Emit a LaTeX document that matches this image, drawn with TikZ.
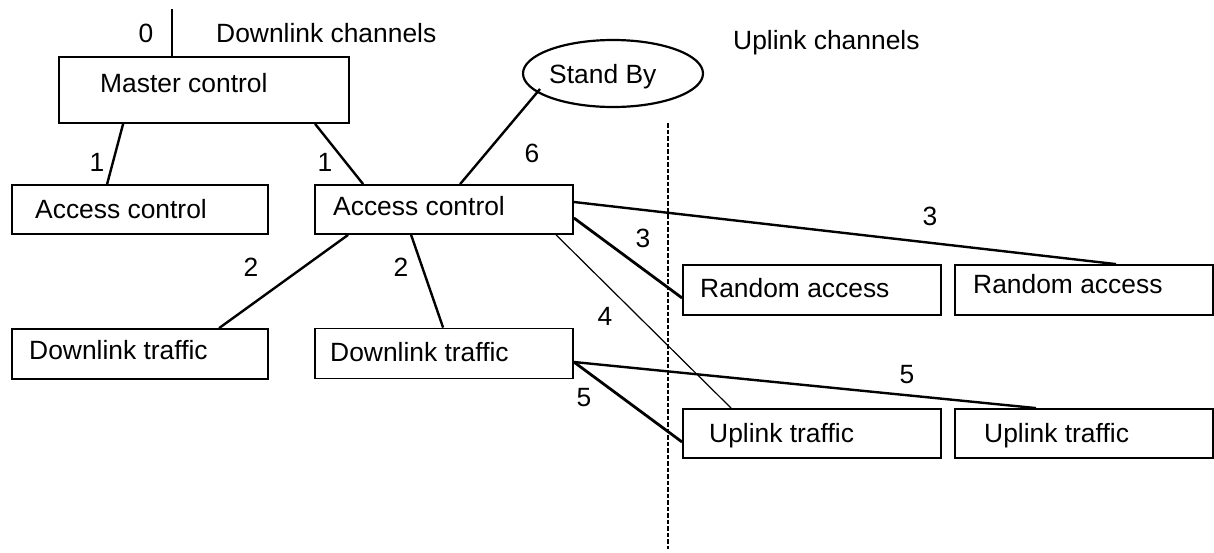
\documentclass[tikz,border=0pt]{standalone}
\usepackage{fontspec}
\setmainfont{Liberation Sans}
\usetikzlibrary{shapes.geometric}
\begin{document}
\begin{tikzpicture}[x=1pt,y=-1pt,
  every node/.style={font=\fontsize{26.4}{30}\selectfont},
  box/.style={draw, line width=1.8pt, rectangle, inner sep=0pt},
  txt/.style={anchor=base west, inner sep=0pt},
  num/.style={anchor=center, inner sep=0pt},
  conn/.style={line width=2.4pt},
  thinconn/.style={line width=1.2pt}]
\useasboundingbox (0,0) rectangle (1214,552);

% boxes
\node[box, minimum width=290pt, minimum height=66pt] (mc) at (204,90) {};
\node[box, minimum width=256pt, minimum height=49pt] (acL) at (140,209.5) {};
\node[box, minimum width=258pt, minimum height=49pt] (acR) at (444,209.5) {};
\node[box, minimum width=256pt, minimum height=50pt] (dtL) at (140,354) {};
\node[box, minimum width=258pt, minimum height=50pt] (dtR) at (444,353.5) {};
\node[box, minimum width=258pt, minimum height=50pt] (ra1) at (812,290) {};
\node[box, minimum width=258pt, minimum height=50pt] (ra2) at (1084,290) {};
\node[box, minimum width=258pt, minimum height=49pt] (ut1) at (812,433.5) {};
\node[box, minimum width=258pt, minimum height=49pt] (ut2) at (1084,433.5) {};
\node[draw, line width=2.2pt, ellipse, inner sep=0pt, minimum width=180pt, minimum height=67pt] (sb) at (613,73.5) {};

% texts
\node[txt] (tmc) at (100,92) {Master control};
\node[txt] (tacL) at (35,218) {Access control};
\node[txt] (tacR) at (333,215) {Access control};
\node[txt] (tdtL) at (29,359.5) {Downlink traffic};
\node[txt] (tdtR) at (330,361.5) {Downlink traffic};
\node[txt] (tra1) at (700,297) {Random access};
\node[txt] (tra2) at (973,293) {Random access};
\node[txt] (tut1) at (709,442) {Uplink traffic};
\node[txt] (tut2) at (984,442) {Uplink traffic};
\node[txt] (tsb) at (549,83) {Stand By};
\node[txt] (tdc) at (216,42) {Downlink channels};
\node[txt] (tuc) at (733,49.5) {Uplink channels};

% numbers
\node[num] (n0) at (146,33) {0};
\node[num] (n1a) at (97,162) {1};
\node[num] (n1b) at (325,162) {1};
\node[num] (n6) at (532,153) {6};
\node[num] (n2a) at (251,267) {2};
\node[num] (n2b) at (401,267) {2};
\node[num] (n3a) at (643,238) {3};
\node[num] (n3b) at (930,216) {3};
\node[num] (n4) at (605,316) {4};
\node[num] (n5a) at (584,398) {5};
\node[num] (n5b) at (907,375) {5};

% top stub
\coordinate (top) at (172,9);
\draw[line width=2.2pt] (top) -- (mc.north -| top);

% dashed divider
\coordinate (dtop) at (668,123);
\coordinate (dbot) at (668,549);
\draw[line width=2.6pt, dash pattern=on 4.5pt off 2pt] (dtop) -- (dbot);

% connectors
\draw[conn] ([xshift=65pt]mc.south west) -- ([xshift=96pt]acL.north west);
\draw[conn] ([xshift=257pt]mc.south west) -- ([xshift=49pt]acR.north west);
\draw[conn] ([shift={(-73,15.5)}]sb.center) -- ([xshift=146pt]acR.north west);
\draw[conn] ([xshift=34pt]acR.south west) -- ([xshift=208pt]dtL.north west);
\draw[conn] ([xshift=97pt]acR.south west) -- ([xshift=129pt]dtR.north west);
\draw[conn] ([yshift=7.5pt]acR.east) -- ([xshift=162pt]ra2.north west);
\draw[line width=2.8pt] ([yshift=-8.5pt]acR.east) -- ([yshift=-8pt]ra1.west);
\draw[thinconn] ([xshift=242pt]acR.south west) -- ([xshift=49pt]ut1.north west);
\draw[conn] ([yshift=-8.5pt]dtR.east) -- ([xshift=82pt]ut2.north west);
\draw[line width=2.8pt] ([yshift=-8.5pt]dtR.east) -- ([yshift=-8.5pt]ut1.west);
\end{tikzpicture}
\end{document}
